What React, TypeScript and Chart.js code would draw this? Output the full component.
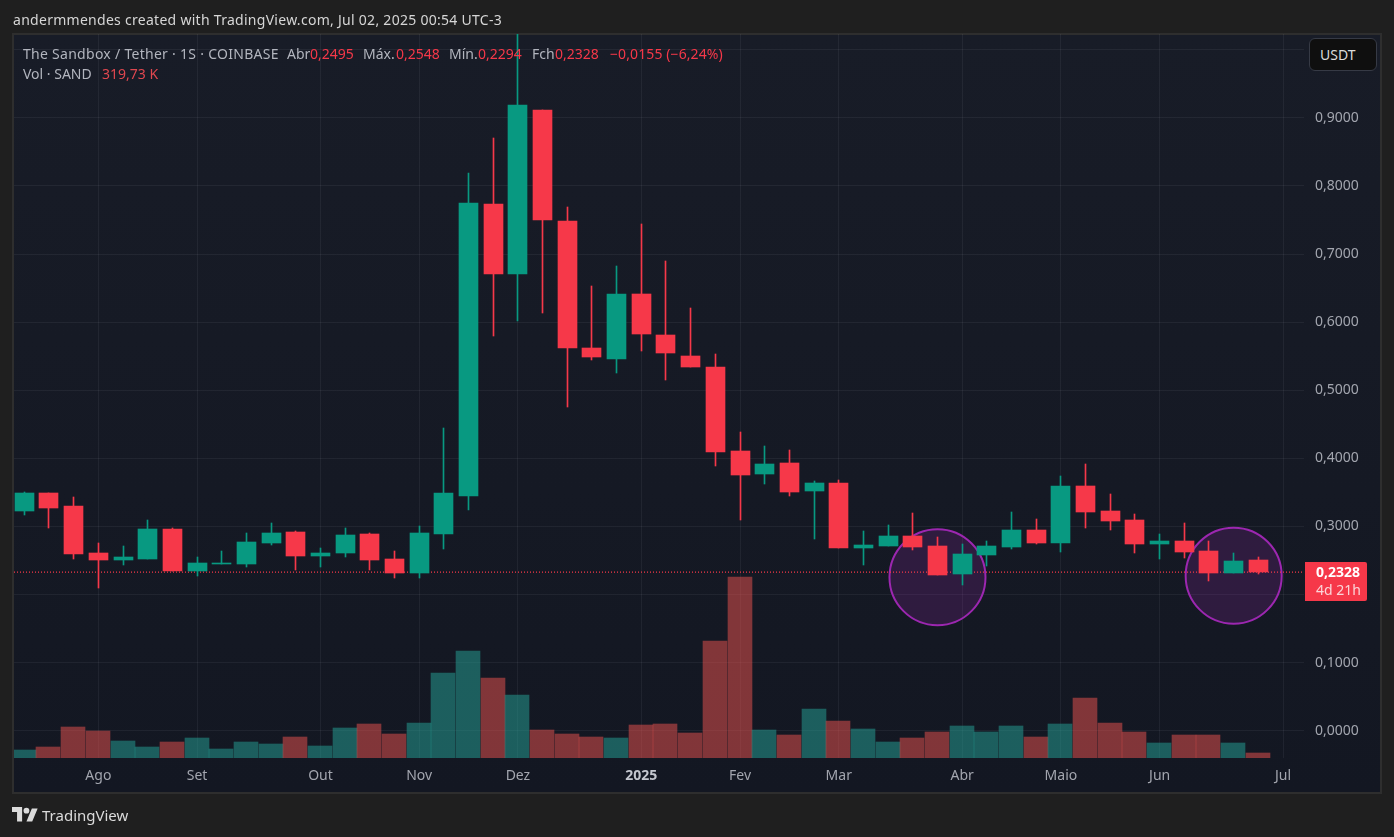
import { useEffect, useRef } from 'react';
import Chart from 'chart.js/auto';

const opens = [0.3217, 0.3481, 0.3290, 0.2600, 0.2497, 0.2512, 0.2952, 0.2336, 0.2438, 0.2438, 0.2747, 0.2908, 0.2556, 0.2600, 0.2879, 0.2512, 0.2306, 0.2879, 0.3437, 0.7726, 0.6698, 0.9107, 0.7477, 0.5611, 0.5450, 0.6404, 0.5802, 0.5494, 0.5332, 0.4098, 0.3760, 0.3922, 0.3511, 0.3628, 0.2673, 0.2703, 0.2850, 0.2703, 0.2292, 0.2571, 0.2688, 0.2938, 0.2747, 0.3584, 0.3217, 0.3085, 0.2732, 0.2776, 0.2629, 0.2306, 0.2495];
const highs = [0.3496, 0.3481, 0.3423, 0.2747, 0.2703, 0.3085, 0.2967, 0.2541, 0.2629, 0.2894, 0.3041, 0.2923, 0.2673, 0.2967, 0.2894, 0.2629, 0.2997, 0.4436, 0.8182, 0.8696, 1.03, 0.9107, 0.7682, 0.6522, 0.6816, 0.7433, 0.6889, 0.6199, 0.5523, 0.4377, 0.4172, 0.4113, 0.3658, 0.3672, 0.2923, 0.3011, 0.3188, 0.2835, 0.2732, 0.2776, 0.3202, 0.3099, 0.3731, 0.3907, 0.3467, 0.3173, 0.2879, 0.3041, 0.2776, 0.2600, 0.2548];
const lows = [0.3158, 0.2967, 0.2512, 0.2086, 0.2424, 0.2512, 0.2336, 0.2262, 0.2438, 0.2394, 0.2717, 0.2350, 0.2394, 0.2541, 0.2350, 0.2233, 0.2233, 0.2659, 0.3232, 0.5787, 0.6008, 0.6125, 0.4745, 0.5435, 0.5244, 0.5567, 0.5141, 0.5332, 0.3878, 0.3085, 0.3613, 0.3437, 0.2806, 0.2673, 0.2424, 0.2703, 0.2644, 0.2277, 0.2130, 0.2409, 0.2659, 0.2732, 0.2615, 0.2967, 0.2938, 0.2600, 0.2512, 0.2527, 0.2189, 0.2306, 0.2294];
const closes = [0.3481, 0.3261, 0.2585, 0.2497, 0.2541, 0.2952, 0.2336, 0.2453, 0.2453, 0.2762, 0.2894, 0.2556, 0.2600, 0.2864, 0.2497, 0.2306, 0.2894, 0.3481, 0.7741, 0.6698, 0.9181, 0.7491, 0.5611, 0.5479, 0.6404, 0.5817, 0.5538, 0.5332, 0.4084, 0.3746, 0.3907, 0.3496, 0.3628, 0.2673, 0.2717, 0.2850, 0.2688, 0.2277, 0.2585, 0.2703, 0.2938, 0.2747, 0.3584, 0.3202, 0.3070, 0.2732, 0.2776, 0.2615, 0.2306, 0.2482, 0.2328];
// volume in thousands of SAND
const volumes = [512, 704, 1984, 1728, 1088, 704, 1024, 1280, 576, 1024, 896, 1344, 768, 1920, 2176, 1536, 2240, 5440, 6848, 5120, 4032, 1792, 1536, 1344, 1280, 2112, 2176, 1600, 7488, 11584, 1792, 1472, 3136, 2368, 1856, 1024, 1280, 1664, 2048, 1664, 2048, 1344, 2176, 3840, 2240, 1664, 960, 1472, 1472, 960, 320];

const tickIndices = [3, 7, 12, 16, 20, 25, 29, 33, 38, 42, 46, 51];
const tickLabels = ['Ago', 'Set', 'Out', 'Nov', 'Dez', '2025', 'Fev', 'Mar', 'Abr', 'Maio', 'Jun', 'Jul'];
const priceTicks = [0, 0.1, 0.2, 0.3, 0.4, 0.5, 0.6, 0.7, 0.8, 0.9, 1.0];

const circleIndices = [37, 49];
const circlePrices = [0.2254, 0.2276];

const lastPrice = 0.2328;

const GREEN = '#089981';
const RED = '#f63849';
const GRID = 'rgba(240,243,250,0.06)';
const LABEL = '#a3a6af';
const FONT = '"Noto Sans", sans-serif';

const xMin = -0.417;
const xMax = 51.85;

const candleColor = (i: number) => (closes[i] >= opens[i] ? GREEN : RED);

// TradingView draws candles on whole pixels, so snap the bar elements after layout
const snapBars = {
  id: 'snapBars',
  afterDatasetsUpdate(chart: any) {
    chart.data.datasets.forEach((ds: any, d: number) => {
      if (ds.barThickness === undefined) return;
      chart.getDatasetMeta(d).data.forEach((el: any) => {
        const x = Math.floor(el.x);
        el.x = ds.barThickness % 2 === 0 ? x : x + 0.5;
        el.y = Math.floor(el.y);
        el.base = Math.floor(el.base);
      });
    });
  },
};

export default function App() {
  const canvasRef = useRef<HTMLCanvasElement>(null);

  useEffect(() => {
    if (!canvasRef.current) return;

    const chart = new Chart(canvasRef.current, {
      type: 'bar',
      plugins: [snapBars],
      data: {
        datasets: [
          {
            type: 'bubble',
            data: circleIndices.map((x, i) => ({ x, y: circlePrices[i], r: 48 })),
            yAxisID: 'y',
            backgroundColor: 'rgba(156,39,176,0.2)',
            borderColor: '#9c27b0',
            borderWidth: 2,
            order: 5,
          },
          {
            type: 'line',
            data: [
              { x: xMin, y: lastPrice },
              { x: xMax, y: lastPrice },
            ],
            yAxisID: 'y',
            borderColor: RED,
            borderWidth: 1.4,
            borderDash: [1, 2],
            pointRadius: 0,
            order: 4,
          },
          {
            // volume
            data: volumes.map((v, i) => ({ x: i, y: v })),
            yAxisID: 'vol',
            backgroundColor: volumes.map((_, i) =>
              closes[i] >= opens[i] ? 'rgba(38,166,154,0.5)' : 'rgba(239,83,80,0.5)'
            ),
            barThickness: 24,
            grouped: false,
            order: 6,
          },
          {
            // wicks
            data: lows.map((l, i) => ({ x: i, y: [l, highs[i]] })),
            yAxisID: 'y',
            backgroundColor: lows.map((_, i) => candleColor(i)),
            barThickness: 1,
            grouped: false,
            order: 3,
          },
          {
            // bodies
            data: opens.map((o, i) => ({ x: i, y: [o, closes[i]] })),
            yAxisID: 'y',
            backgroundColor: opens.map((_, i) => candleColor(i)),
            barThickness: 19,
            grouped: false,
            order: 2,
          },
        ] as any,
      },
      options: {
        responsive: false,
        animation: false,
        layout: { autoPadding: false, padding: { left: 14, top: 34, right: 14, bottom: 44 } },
        plugins: { legend: { display: false }, tooltip: { enabled: false } },
        scales: {
          x: {
            type: 'linear',
            min: xMin,
            max: xMax,
            offset: false,
            border: { display: false },
            grid: { color: GRID, drawTicks: false, offset: false },
            afterBuildTicks: (axis: any) => {
              axis.ticks = tickIndices.map((value) => ({ value }));
            },
            afterFit: (axis: any) => {
              axis.height = 35;
            },
            ticks: {
              autoSkip: false,
              maxRotation: 0,
              padding: 10,
              callback: (value: any) => tickLabels[tickIndices.indexOf(Number(value))] ?? '',
              color: (ctx: any) => (ctx.tick?.value === 25 ? '#c3c6ce' : LABEL),
              font: (ctx: any) => ({
                family: FONT,
                size: 14,
                weight: ctx.tick?.value === 25 ? 'bold' : 'normal',
              }),
            },
          },
          y: {
            position: 'right',
            min: -0.04025,
            max: 1.02321,
            border: { display: false },
            grid: { color: GRID, drawTicks: false },
            afterBuildTicks: (axis: any) => {
              axis.ticks = priceTicks.map((value) => ({ value }));
            },
            afterFit: (axis: any) => {
              axis.width = 76;
            },
            ticks: {
              autoSkip: false,
              padding: 11,
              color: LABEL,
              font: { family: FONT, size: 14 },
              callback: (value: any) => Number(value).toFixed(4).replace('.', ','),
            },
          },
          vol: {
            display: false,
            min: 0,
            max: 46336,
          },
        },
      },
    } as any);

    return () => chart.destroy();
  }, []);

  const text = (left: number, top: number, content: string, color: string, extra = {}) => (
    <span style={{ position: 'absolute', left, top, color, whiteSpace: 'nowrap', ...extra }}>{content}</span>
  );

  return (
    <div
      style={{
        position: 'absolute',
        left: 0,
        top: 0,
        width: 1394,
        height: 837,
        overflow: 'hidden',
        background: '#1f1f1f',
        fontFamily: FONT,
        fontSize: 14,
        lineHeight: '18px',
      }}
    >
      <div
        style={{
          position: 'absolute',
          left: 12,
          top: 33,
          width: 1366,
          height: 757,
          border: '2px solid #2e2e2e',
          background: 'linear-gradient(#181c27, #131722)',
        }}
      />
      <canvas ref={canvasRef} width={1394} height={837} style={{ position: 'absolute', left: 0, top: 0 }} />

      {text(13, 11, 'andermmendes created with TradingView.com, Jul 02, 2025 00:54 UTC-3', '#d6d6d6', { letterSpacing: 0.28 })}

      {text(23, 45, 'The Sandbox / Tether · 1S · COINBASE', '#b2b5be', { letterSpacing: 0.28 })}
      {text(287, 45, 'Abr', '#b2b5be')}
      {text(310, 45, '0,2495', RED)}
      {text(363, 45, 'Máx.', '#b2b5be')}
      {text(396, 45, '0,2548', RED)}
      {text(449, 45, 'Mín.', '#b2b5be')}
      {text(478, 45, '0,2294', RED)}
      {text(532, 45, 'Fch', '#b2b5be')}
      {text(555, 45, '0,2328', RED)}
      {text(610, 45, '−0,0155 (−6,24%)', RED, { letterSpacing: 0.1 })}
      {text(23, 65, 'Vol · SAND', '#b2b5be')}
      {text(102, 65, '319,73 K', '#e0474f')}

      <div
        style={{
          position: 'absolute',
          left: 1309,
          top: 38,
          width: 66,
          height: 31,
          background: '#0f0f0f',
          border: '1px solid #363a45',
          borderRadius: 6,
        }}
      />
      {text(1320, 46, 'USDT', '#dbdbdb')}

      <div style={{ position: 'absolute', left: 1305, top: 562, width: 62, height: 39, background: RED, borderRadius: '0 2px 2px 0' }} />
      {text(1316, 563, '0,2328', '#ffffff', { fontWeight: 'bold' })}
      {text(1316, 581, '4d 21h', '#fbd5d8')}

      <svg width={26} height={16} viewBox="0 0 36 22" style={{ position: 'absolute', left: 12, top: 807 }}>
        <path d="M14 0H0v7h7v13h7V0zM28 20h-8l7.5-18h8L28 20z" fill="#dbdbdb" />
        <circle cx="20" cy="5" r="4" fill="#dbdbdb" />
      </svg>
      {text(42, 806, 'TradingView', '#dbdbdb', { fontSize: 15 })}
    </div>
  );
}
